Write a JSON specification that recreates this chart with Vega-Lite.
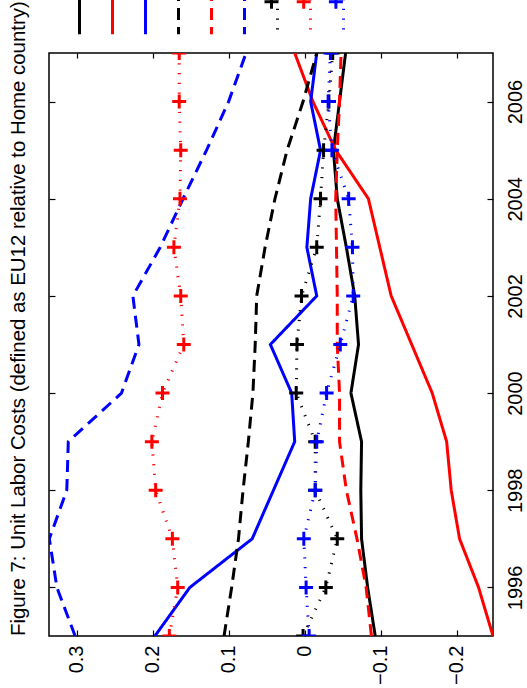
{
  "$schema": "https://vega.github.io/schema/vega-lite/v6.json",
  "width": 444,
  "height": 583,
  "autosize": "none",
  "padding": {"left": 49, "top": 53, "right": 34, "bottom": 52},
  "background": "white",
  "title": {
    "text": "Figure 7: Unit Labor Costs (defined as EU12 relative to Home country)",
    "orient": "left",
    "anchor": "start",
    "frame": "group",
    "offset": 19,
    "font": "Liberation Sans",
    "fontSize": 20.4,
    "fontWeight": "normal",
    "color": "#000000"
  },
  "config": {
    "font": "Liberation Sans",
    "view": {"stroke": "#000000", "strokeWidth": 1.5},
    "axis": {
      "grid": false,
      "domain": false,
      "tickColor": "#000000",
      "tickWidth": 1.2,
      "labelColor": "#000000",
      "labelFont": "Liberation Sans",
      "labelFontSize": 20,
      "title": null
    }
  },
  "data": {
    "values": [
      {"series": "s1", "year": 1995, "value": -0.093}, {"series": "s1", "year": 1996, "value": -0.083}, {"series": "s1", "year": 1997, "value": -0.075}, {"series": "s1", "year": 1998, "value": -0.074}, {"series": "s1", "year": 1999, "value": -0.075}, {"series": "s1", "year": 2000, "value": -0.061}, {"series": "s1", "year": 2001, "value": -0.071}, {"series": "s1", "year": 2002, "value": -0.066}, {"series": "s1", "year": 2003, "value": -0.055}, {"series": "s1", "year": 2004, "value": -0.043}, {"series": "s1", "year": 2005, "value": -0.038}, {"series": "s1", "year": 2006, "value": -0.046}, {"series": "s1", "year": 2007, "value": -0.054},
      {"series": "s2", "year": 1995, "value": -0.248}, {"series": "s2", "year": 1996, "value": -0.229}, {"series": "s2", "year": 1997, "value": -0.204}, {"series": "s2", "year": 1998, "value": -0.193}, {"series": "s2", "year": 1999, "value": -0.187}, {"series": "s2", "year": 2000, "value": -0.168}, {"series": "s2", "year": 2001, "value": -0.141}, {"series": "s2", "year": 2002, "value": -0.114}, {"series": "s2", "year": 2003, "value": -0.099}, {"series": "s2", "year": 2004, "value": -0.084}, {"series": "s2", "year": 2005, "value": -0.041}, {"series": "s2", "year": 2006, "value": -0.011}, {"series": "s2", "year": 2007, "value": 0.013},
      {"series": "s3", "year": 1995, "value": 0.197}, {"series": "s3", "year": 1996, "value": 0.151}, {"series": "s3", "year": 1997, "value": 0.069}, {"series": "s3", "year": 1998, "value": 0.041}, {"series": "s3", "year": 1999, "value": 0.013}, {"series": "s3", "year": 2000, "value": 0.017}, {"series": "s3", "year": 2001, "value": 0.045}, {"series": "s3", "year": 2002, "value": -0.016}, {"series": "s3", "year": 2003, "value": -0.003}, {"series": "s3", "year": 2004, "value": -0.008}, {"series": "s3", "year": 2005, "value": -0.021}, {"series": "s3", "year": 2006, "value": -0.008}, {"series": "s3", "year": 2007, "value": -0.016},
      {"series": "s4", "year": 1995, "value": 0.106}, {"series": "s4", "year": 1996, "value": 0.096}, {"series": "s4", "year": 1997, "value": 0.087}, {"series": "s4", "year": 1998, "value": 0.081}, {"series": "s4", "year": 1999, "value": 0.074}, {"series": "s4", "year": 2000, "value": 0.068}, {"series": "s4", "year": 2001, "value": 0.065}, {"series": "s4", "year": 2002, "value": 0.063}, {"series": "s4", "year": 2003, "value": 0.052}, {"series": "s4", "year": 2004, "value": 0.039}, {"series": "s4", "year": 2005, "value": 0.023}, {"series": "s4", "year": 2006, "value": 0.002}, {"series": "s4", "year": 2007, "value": -0.016},
      {"series": "s5", "year": 1995, "value": -0.088}, {"series": "s5", "year": 1996, "value": -0.081}, {"series": "s5", "year": 1997, "value": -0.069}, {"series": "s5", "year": 1998, "value": -0.055}, {"series": "s5", "year": 1999, "value": -0.046}, {"series": "s5", "year": 2000, "value": -0.046}, {"series": "s5", "year": 2001, "value": -0.043}, {"series": "s5", "year": 2002, "value": -0.043}, {"series": "s5", "year": 2003, "value": -0.042}, {"series": "s5", "year": 2004, "value": -0.041}, {"series": "s5", "year": 2005, "value": -0.043}, {"series": "s5", "year": 2006, "value": -0.046}, {"series": "s5", "year": 2007, "value": -0.048},
      {"series": "s6", "year": 1995, "value": 0.302}, {"series": "s6", "year": 1996, "value": 0.326}, {"series": "s6", "year": 1997, "value": 0.336}, {"series": "s6", "year": 1998, "value": 0.313}, {"series": "s6", "year": 1999, "value": 0.311}, {"series": "s6", "year": 2000, "value": 0.241}, {"series": "s6", "year": 2001, "value": 0.218}, {"series": "s6", "year": 2002, "value": 0.226}, {"series": "s6", "year": 2003, "value": 0.19}, {"series": "s6", "year": 2004, "value": 0.16}, {"series": "s6", "year": 2005, "value": 0.129}, {"series": "s6", "year": 2006, "value": 0.1}, {"series": "s6", "year": 2007, "value": 0.077},
      {"series": "s7", "year": 1995, "value": 0.002}, {"series": "s7", "year": 1996, "value": -0.028}, {"series": "s7", "year": 1997, "value": -0.043}, {"series": "s7", "year": 1998, "value": -0.014}, {"series": "s7", "year": 1999, "value": -0.014}, {"series": "s7", "year": 2000, "value": 0.011}, {"series": "s7", "year": 2001, "value": 0.01}, {"series": "s7", "year": 2002, "value": 0.004}, {"series": "s7", "year": 2003, "value": -0.016}, {"series": "s7", "year": 2004, "value": -0.021}, {"series": "s7", "year": 2005, "value": -0.025}, {"series": "s7", "year": 2006, "value": -0.032}, {"series": "s7", "year": 2007, "value": -0.037},
      {"series": "s8", "year": 1995, "value": 0.178}, {"series": "s8", "year": 1996, "value": 0.167}, {"series": "s8", "year": 1997, "value": 0.174}, {"series": "s8", "year": 1998, "value": 0.196}, {"series": "s8", "year": 1999, "value": 0.201}, {"series": "s8", "year": 2000, "value": 0.187}, {"series": "s8", "year": 2001, "value": 0.159}, {"series": "s8", "year": 2002, "value": 0.163}, {"series": "s8", "year": 2003, "value": 0.172}, {"series": "s8", "year": 2004, "value": 0.164}, {"series": "s8", "year": 2005, "value": 0.163}, {"series": "s8", "year": 2006, "value": 0.165}, {"series": "s8", "year": 2007, "value": 0.165},
      {"series": "s9", "year": 1995, "value": -0.006}, {"series": "s9", "year": 1996, "value": -0.002}, {"series": "s9", "year": 1997, "value": 0.001}, {"series": "s9", "year": 1998, "value": -0.014}, {"series": "s9", "year": 1999, "value": -0.016}, {"series": "s9", "year": 2000, "value": -0.029}, {"series": "s9", "year": 2001, "value": -0.047}, {"series": "s9", "year": 2002, "value": -0.064}, {"series": "s9", "year": 2003, "value": -0.063}, {"series": "s9", "year": 2004, "value": -0.058}, {"series": "s9", "year": 2005, "value": -0.036}, {"series": "s9", "year": 2006, "value": -0.031}, {"series": "s9", "year": 2007, "value": -0.034}
    ]
  },
  "layer": [
    {
      "mark": {"type": "line", "clip": true, "strokeWidth": 3, "strokeCap": "butt"},
      "encoding": {
        "x": {
          "field": "value", "type": "quantitative",
          "scale": {"domain": [-0.248, 0.3364], "reverse": true, "nice": false, "zero": false},
          "axis": {"orient": "bottom", "values": [0.3, 0.2, 0.1, 0, -0.1, -0.2], "format": "~g", "labelAngle": 270, "labelAlign": "right", "labelBaseline": "middle", "tickSize": -6, "labelPadding": 15}
        },
        "y": {
          "field": "year", "type": "quantitative",
          "scale": {"domain": [1995, 2007], "nice": false, "zero": false},
          "axis": {"orient": "right", "values": [1996, 1998, 2000, 2002, 2004, 2006], "format": "d", "labelAngle": 270, "labelAlign": "center", "labelBaseline": "top", "tickSize": -6, "labelPadding": 18}
        },
        "order": {"field": "year"},
        "color": {
          "field": "series", "type": "nominal",
          "scale": {"domain": ["s1", "s2", "s3", "s4", "s5", "s6", "s7", "s8", "s9"], "range": ["#000000", "#ff0000", "#0000ff", "#000000", "#ff0000", "#0000ff", "#000000", "#ff0000", "#0000ff"]},
          "legend": {"orient": "none", "legendX": 14, "legendY": -67.6, "direction": "horizontal", "columns": 9, "title": null, "symbolType": "M0,-2.2L0,2.2", "symbolSize": 850, "symbolStrokeWidth": 3, "labelExpr": "''", "labelOffset": 0, "columnPadding": 0, "padding": 0}
        },
        "strokeDash": {
          "field": "series", "type": "nominal",
          "scale": {"domain": ["s1", "s2", "s3", "s4", "s5", "s6", "s7", "s8", "s9"], "range": [[1, 0], [1, 0], [1, 0], [12, 7], [12, 7], [12, 7], [1.2, 8.5], [1.2, 8.5], [1.2, 8.5]]}
        }
      }
    },
    {
      "transform": [{"filter": {"field": "series", "oneOf": ["s7", "s8", "s9"]}}],
      "mark": {"type": "point", "clip": true, "filled": false, "strokeWidth": 3, "size": 196, "opacity": 1},
      "encoding": {
        "x": {"field": "value", "type": "quantitative", "axis": {"orient": "top", "values": [0.3, 0.2, 0.1, 0, -0.1, -0.2], "labels": false, "tickSize": -5}},
        "y": {"field": "year", "type": "quantitative", "axis": {"orient": "left", "values": [1996, 1998, 2000, 2002, 2004, 2006], "labels": false, "tickSize": -6}},
        "color": {
          "field": "series", "type": "nominal",
          "scale": {"domain": ["s7", "s8", "s9"], "range": ["#000000", "#ff0000", "#0000ff"]},
          "legend": {"orient": "none", "legendX": 214, "legendY": -60, "direction": "horizontal", "columns": 3, "title": null, "symbolSize": 196, "symbolStrokeWidth": 3, "symbolFillColor": "transparent", "labelExpr": "''", "labelOffset": 0, "columnPadding": 5.2, "padding": 0}
        },
        "shape": {
          "field": "series", "type": "nominal",
          "scale": {"domain": ["s7", "s8", "s9"], "range": ["M-1,0L1,0M0,-1L0,1", "M-1,0L1,0M0,-1L0,1", "M-1,0L1,0M0,-1L0,1"]},
          "legend": {"orient": "none", "legendX": 214, "legendY": -60, "direction": "horizontal", "columns": 3, "title": null, "symbolSize": 196, "symbolStrokeWidth": 3, "symbolFillColor": "transparent", "labelExpr": "''", "labelOffset": 0, "columnPadding": 5.2, "padding": 0}
        }
      }
    }
  ],
  "resolve": {"axis": {"x": "independent", "y": "independent"}, "scale": {"color": "independent", "shape": "independent", "strokeDash": "independent"}}
}
